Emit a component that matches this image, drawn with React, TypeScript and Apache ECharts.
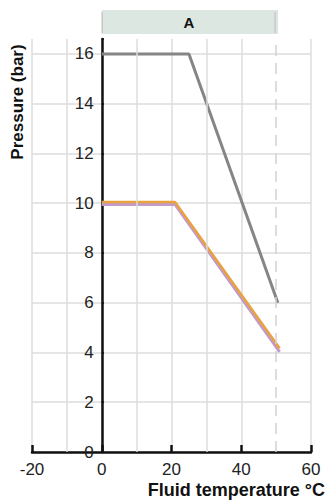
import React, { useEffect, useRef } from "react";
import * as echarts from "echarts";

const grayX = [0, 25, 50.5];
const grayY = [16, 16, 6];
const orangeX = [0, 21, 51];
const orangeY = [10.05, 10.05, 4.17];
const purpleX = [0, 21, 51];
const purpleY = [9.95, 9.95, 4.02];
const minorGridX = [-10, 10, 30];
const limitX = 50;
const bandRange = [0, 50];
const bandLabel = "A";
const xTitle = "Fluid temperature °C";
const yTitle = "Pressure (bar)";
const xMin = -20;
const xMax = 60;

const FONT = "'Liberation Sans', Arial, Helvetica, sans-serif";
const GRID = { left: 32, right: 15, top: 39, bottom: 50 };
const W = 326;
const H = 502;

const pairs = (xs: number[], ys: number[]) => xs.map((x, i) => [x, ys[i]]);

export default function App() {
  const ref = useRef<HTMLDivElement>(null);
  useEffect(() => {
    if (!ref.current) return;
    const chart = echarts.init(ref.current, null, { renderer: "svg" });
    const plotW = W - GRID.left - GRID.right;
    const yOffset = -((0 - xMin) / (xMax - xMin)) * plotW;
    const option: any = {
      animation: false,
      grid: GRID,
      xAxis: {
        type: "value",
        min: xMin,
        max: xMax,
        interval: 20,
        axisLine: { show: true, lineStyle: { color: "#111", width: 2.5 } },
        axisTick: { show: true, inside: true, length: 7, lineStyle: { color: "#111", width: 2.5 } },
        axisLabel: { color: "#222", fontSize: 17, fontFamily: FONT, margin: 9 },
        splitLine: { show: true, lineStyle: { color: "#dcdcdc", width: 1.5 } },
      },
      yAxis: {
        type: "value",
        min: 0,
        max: 16.6,
        interval: 2,
        offset: yOffset,
        axisLine: { show: true, onZero: false, lineStyle: { color: "#111", width: 2.5 } },
        axisTick: { show: true, inside: true, length: 2, lineStyle: { color: "#111", width: 2 } },
        axisLabel: {
          color: "#222",
          fontSize: 17,
          fontFamily: FONT,
          margin: 8,
          formatter: (v: number) => (Math.abs(v % 2) < 1e-6 ? String(v) : ""),
        },
        splitLine: { show: true, showMaxLine: false, lineStyle: { color: "#dcdcdc", width: 1.5 } },
      },
      series: [
        {
          type: "line",
          data: [],
          silent: true,
          markLine: {
            symbol: "none",
            silent: true,
            label: { show: false },
            data: [
              ...minorGridX.map((x) => ({ xAxis: x, lineStyle: { color: "#dcdcdc", width: 1.5, type: "solid" } })),
              { xAxis: limitX, lineStyle: { color: "#d2d2d2", width: 1.5, type: [11, 7] } },
            ],
          },
          z: 1,
        },
        {
          type: "line",
          data: pairs(grayX, grayY),
          showSymbol: false,
          lineStyle: { color: "#858585", width: 3 },
          z: 3,
        },
        {
          type: "line",
          data: pairs(purpleX, purpleY),
          showSymbol: false,
          lineStyle: { color: "#c39bc9", width: 3 },
          z: 3,
        },
        {
          type: "line",
          data: pairs(orangeX, orangeY),
          showSymbol: false,
          lineStyle: { color: "#eaa23c", width: 2.5 },
          z: 4,
        },
      ],
    };
    chart.setOption(option);
    const x0 = chart.convertToPixel({ xAxisIndex: 0 }, bandRange[0]) as number;
    const x1 = chart.convertToPixel({ xAxisIndex: 0 }, bandRange[1]) as number;
    chart.setOption({
      graphic: [
        {
          type: "rect",
          shape: { x: x0, y: 10, width: x1 - x0 + 2, height: 24 },
          style: { fill: "#dbe7e0" },
          silent: true,
        },
        {
          type: "line",
          shape: { x1: x0 + 0.5, y1: 12, x2: x0 + 0.5, y2: 33 },
          style: { stroke: "#c8c8c8", lineWidth: 1.5 },
        },
        {
          type: "line",
          shape: { x1: x1 - 1, y1: 12, x2: x1 - 1, y2: 33 },
          style: { stroke: "#c8c8c8", lineWidth: 1.5 },
        },
        {
          type: "text",
          x: (x0 + x1) / 2,
          y: 22,
          style: {
            text: bandLabel,
            fill: "#111",
            font: `bold 15px ${FONT}`,
            textAlign: "center",
            textVerticalAlign: "middle",
          },
        },
        {
          type: "text",
          x: 17,
          y: 102,
          rotation: Math.PI / 2,
          style: {
            text: yTitle,
            fill: "#111",
            font: `bold 17px ${FONT}`,
            textAlign: "center",
            textVerticalAlign: "middle",
          },
        },
        {
          type: "text",
          x: 325,
          y: 490,
          style: {
            text: xTitle,
            fill: "#111",
            font: `bold 18px ${FONT}`,
            textAlign: "right",
            textVerticalAlign: "middle",
          },
        },
      ],
    });
    return () => chart.dispose();
  }, []);
  return <div ref={ref} style={{ width: W, height: H, position: "absolute", left: 0, top: 0 }} />;
}
